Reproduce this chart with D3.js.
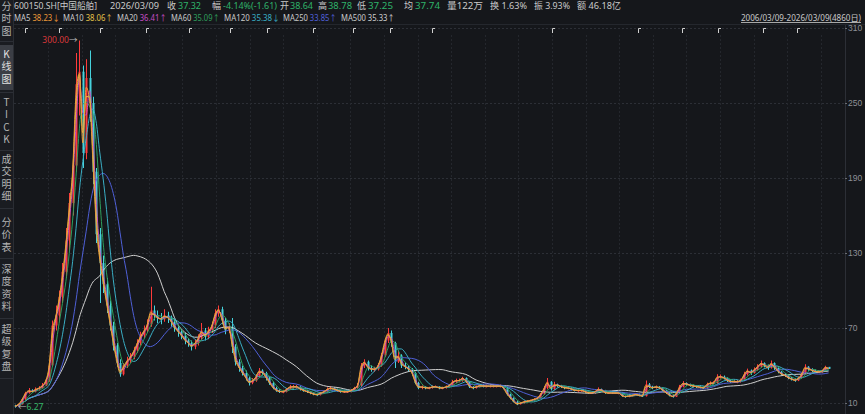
<!DOCTYPE html>
<html><head><meta charset="utf-8">
<script src="https://cdn.jsdelivr.net/npm/d3@7"></script>
<style>
html,body{margin:0;padding:0;background:#15171b;overflow:hidden;}
svg{display:block;font-family:"Noto Sans","Noto Sans CJK SC",sans-serif;}
.vt{writing-mode:vertical-rl;text-orientation:upright;}
</style></head><body>
<svg id="c" width="865" height="414"></svg>
<script>
// ---- DATA (monthly, 2006-03 .. 2026-03) ----
const startMonth = "2006-03";
const firstOpen = 8.0;
const closes = [
 7.5,9,13,18,20,19,21,22,24,28, 40,72,80,95,115,140,170,200,265,275,
 210,270,250,195,145,122,105,88,72,56, 42,33,40,44,47,52,58,64,68,73,
 84,80,78,77,80,78,75,70,67,64, 60,58,55,58,62,68,63,68,72,82,
 85,76,68,71,55,43,38,34,30,26, 28,31,36,34,30,26,22,20,19,19,
 21,23,23,23,21,20,19,18,17,16.5, 18,19,21,22,21,20,19,19,19,20,
 22,24,40,43,38,37,37,40,48,60, 66,58,43,48,40,39,37,34,26,22,
 23,22,22,23,23,22,22,23,24,27, 28,28,30,27,23,22,23,24,23.5,23.5,
 23.5,23.5,23.5,23.5,22,17,14,11,9,10, 11,11.5,12,13,14,17,22,27,21,25,
 24,23,22,22,21,20,20,20,19,18, 18,19,21,20,18,18,18,18,18,15.5,
 15,15.6,16,17,16,15.5,25,23,22,23, 22,20,18,16,15,18,23,26,25,24,
 23.5,23,22.5,22,25,26,26,31,31,30, 28,27,27,27,28,33,36,34,37,39,
 42,40,38,42,38,35,33,32,30,29, 28,30,33,39,37,36,35,35,35.5,38.93,
 37.32
];
const highs = [
 8.6,9.5,13.8,19,22,21,22.5,23.5,26,30, 43,76,88,100,122,150,178,210,290,300,
 280,285,292,255,198,150,128,110,92,75, 58,45,42,47,50,55,61,67,72,77,
 103,88,84,82,85,83,80,77,72,69, 66,62,60,61,65,74,70,71,75,85,
 88,87,78,74,78,57,45,40,36,31, 30,33,38,37,35,31,27,23,21,20.5,
 22,24.5,24.5,24.5,23.5,21.5,20.5,19.5,18.5,17.5, 18.8,20,22.5,23.5,22.5,21.5,20.5,20,20,21,
 23,26,42,45,44,40,39,42,50,62, 70,68,59,52,49,42,40,38,35,27,
 24,23.5,23,24,24,23.5,23,24,25,28.5, 29.5,29.5,31,30.5,27.5,23.5,24,25,25,24.8,
 24.8,24.8,24.8,24.8,24,22.5,17.5,14.5,11.5,10.8, 11.8,12.2,12.8,13.8,15,18,23.5,30,27.5,27,
 25.5,24.5,23.5,23,22.5,21.5,21,21,20.5,19.5, 19,19.8,22.5,21.5,20.5,19,19,19,19,18.5,
 16,16.3,16.8,17.8,17.5,16.5,28,26,23.8,24, 23.5,22.5,20.5,18.5,16.5,19,24.5,27.5,26.5,25.5,
 24.8,24.3,23.8,23.3,26.3,27.3,27.5,33,32.8,32, 30.5,28.8,28.5,28.5,29.5,35,37.5,36.8,38.5,41,
 44,42.5,40.8,44,42.5,38.5,35.5,33.8,32.5,30.8, 29.8,31.2,34.3,41,39.5,37.8,36.8,36.3,36.6,39.8,
 38.78
];
const lows = [
 6.27,7.2,8.8,12.5,17.5,18,18.5,20,21.5,23.5, 27,39,68,76,90,110,132,160,195,240,
 198,205,235,185,138,90,98,82,68,52, 39,31,32,38,42,45,50,56,62,66,
 71,76,74,73,75,74,71,67,63,61, 57,55,52,53,56,60,60,61,66,70,
 79,73,65,66,50,40,35,32,28,24, 25,27,30,32,28,24.5,21,19,18,17.8,
 18.5,20.5,21.5,21.5,20,19,18,17,16.2,15.8, 16,17.5,18.5,20.5,20,19,18.2,18,18,18.5,
 19.5,21.5,23.5,38,36,35,35,36,39,47, 58,55,38,42,38,37,35,32,25,21,
 21,21,21,21.5,22,21,21,21.5,22.5,23.5, 26,26.5,27,26,22,21,21.5,22.5,22.5,22.5,
 22.5,22.5,22.5,22.5,21,16,13,10.5,8.3,8.8, 9.6,10.6,11,11.6,12.5,13.5,16.5,21,20,20.5,
 22.5,22,21,21,20,19.2,19,19,18.2,17.3, 17.2,17.5,18.5,19,17.3,17.2,17.2,17.2,17,15,
 14.2,14.6,15,15.6,15.3,14.8,15.2,22,21,21.5, 21,19.2,17.2,15.3,14.3,14.8,17.5,22.5,23.8,23,
 22.5,22,21.6,21.2,21.6,24.3,24.8,25.5,29.5,28.8, 26.8,26,26,25.8,26.3,27.5,32,32.5,33.5,36,
 38,38.5,36.5,37.5,36.5,33.8,31.8,30.8,29,28, 27,27.5,29.5,32.5,35.8,34.8,34,34,34.3,35.2,
 37.25
];
const yTicks = [10, 70, 130, 190, 250, 310];
const maNames  = ["MA5","MA10","MA20","MA60","MA120","MA250","MA500"];
const maDays   = [5, 10, 20, 60, 120, 250, 500];
const maValues = ["38.23↓","38.06↑","36.41↑","35.09↑","35.38↓","33.85↑","35.33↑"];
const maColors = ["#ec9a3a","#e3c24a","#c44dc4","#2f9f5c","#3aaec4","#4f60d8","#cfcfcf"];
const header1 = [
 ["600150.SH[中国船舶]","#c9c9c9"],["2026/03/09","#c9c9c9"],["收","#c9c9c9"],["37.32","#2fb36a"],
 ["幅","#c9c9c9"],["-4.14%(-1.61)","#2fb36a"],["开","#c9c9c9"],["38.64","#2fb36a"],
 ["高","#c9c9c9"],["38.78","#2fb36a"],["低","#c9c9c9"],["37.25","#2fb36a"],
 ["均","#c9c9c9"],["37.74","#2fb36a"],["量122万","#c9c9c9"],["换 1.63%","#c9c9c9"],
 ["振 3.93%","#c9c9c9"],["额 46.18亿","#c9c9c9"]
];
const rangeText = "2006/03/09-2026/03/09(4860日)";
const flagX = [25,59,100,146,189,230,267,313,353,390,432,552,638,682,718,763,797];
const sideTabs = [
 {label:"分时图", top:1},
 {label:"K线图", top:49, active:true},
 {label:"TICK", top:97},
 {label:"成交明细", top:154},
 {label:"分价表", top:217},
 {label:"深度资料", top:264},
 {label:"超级复盘", top:324}
];
const sideSeps = [41, 92, 150, 208, 258, 318, 378];

// ---- layout (positions / widths of header texts) ----
const header1Pos = [[14,83],[110,49],[167,9],[178,23],[212,9],[223,54],[280,9],[290,23],
 [318,9],[328,24],[357,9],[368,25],[404,9],[415,25],[447,36],[490,37],[534,36],[577,44]];
const legPos = [[14,46],[63,50],[117,50],[171,49],[224,56],[283,54],[341,54]];

// ---- DRAW ----
const svg = d3.select("#c");
const plot = {l:14, r:845, t:25, b:411};
svg.append("rect").attr("width",865).attr("height",414).attr("fill","#15171b");

const x = d3.scaleLinear().domain([0, closes.length-1]).range([15, 828.6]);
const y = d3.scaleLinear().domain([10, 310]).range([403, 28]);

// grid
const grid = svg.append("g");
grid.selectAll("line.h").data(yTicks).join("line").attr("class","h")
 .attr("x1",plot.l).attr("x2",plot.r)
 .attr("y1",d=>Math.round(y(d))+0.5).attr("y2",d=>Math.round(y(d))+0.5)
 .attr("stroke","#2c2f36").attr("stroke-dasharray","2,2");
const vg = d3.range(24).map(k=>48+33.6*k);
grid.selectAll("line.v").data(vg).join("line").attr("class","v")
 .attr("x1",d=>Math.round(d)+0.5).attr("x2",d=>Math.round(d)+0.5)
 .attr("y1",plot.t+10).attr("y2",plot.b)
 .attr("stroke","#24272d").attr("stroke-dasharray","2,2");
svg.append("line").attr("x1",plot.r+0.5).attr("x2",plot.r+0.5).attr("y1",24).attr("y2",414)
 .attr("stroke","#2c2f36");
svg.append("line").attr("x1",14).attr("x2",865).attr("y1",24.5).attr("y2",24.5).attr("stroke","#24272d");

// y axis
const yAxis = d3.axisRight(y).tickValues(yTicks).tickSize(2).tickPadding(1).tickFormat(d3.format("d"));
const ya = svg.append("g").attr("transform",`translate(${plot.r},0)`).call(yAxis);
ya.select(".domain").remove();
ya.selectAll("line").attr("stroke","#6a6d73");
ya.selectAll("text").attr("fill","#8e9096").attr("font-size","8.5px");

// clip
svg.append("clipPath").attr("id","clip").append("rect")
 .attr("x",plot.l).attr("y",plot.t).attr("width",plot.r-plot.l).attr("height",plot.b-plot.t);
const g = svg.append("g").attr("clip-path","url(#clip)");

const opens = closes.map((c,i)=> i===0 ? firstOpen : closes[i-1]);
const cw = 2;
const upC = "#ff3b3b", dnC = "#46d2dc";
const cand = g.append("g").selectAll("g").data(closes).join("g");
cand.append("line")
 .attr("x1",(d,i)=>Math.round(x(i))+0.5).attr("x2",(d,i)=>Math.round(x(i))+0.5)
 .attr("y1",(d,i)=>y(highs[i])).attr("y2",(d,i)=>y(lows[i]))
 .attr("stroke",(d,i)=> d>=opens[i]?upC:dnC).attr("stroke-width",1);
cand.append("rect")
 .attr("x",(d,i)=>Math.round(x(i))+0.5-cw/2).attr("width",cw)
 .attr("y",(d,i)=>y(Math.max(d,opens[i])))
 .attr("height",(d,i)=>Math.max(1,Math.abs(y(d)-y(opens[i]))))
 .attr("fill",(d,i)=> d>=opens[i]?upC:dnC);

// moving averages: integral of the close path over the last N trading days
const daysPerMonth = 4860/240;
function maAt(i, W){
  const t0 = Math.max(0, i-W), len = i-t0;
  if (len <= 0) return closes[i];
  let sum = 0;
  for (let k=i; k>t0; k--){
    const a = Math.max(k-1, t0);
    const va = closes[k-1] + (a-(k-1))*(closes[k]-closes[k-1]);
    sum += (va+closes[k])/2*(k-a);
  }
  return sum/len;
}
const line = d3.line().x(d=>x(d[0])).y(d=>y(d[1])).curve(d3.curveMonotoneX);
for (let j=maDays.length-1; j>=0; j--){
  const W = maDays[j]/daysPerMonth;
  const pts = closes.map((c,i)=>[i, maAt(i,W)]);
  g.append("path").attr("d",line(pts)).attr("fill","none")
   .attr("stroke",maColors[j]).attr("stroke-width",1);
}

// max / min labels
const iMax = d3.maxIndex(highs), iMin = d3.minIndex(lows);
const mx = svg.append("text").attr("x",x(iMax)-2).attr("y",y(highs[iMax])+2)
 .attr("text-anchor","end").attr("font-size","8.5px");
mx.append("tspan").attr("fill","#d8383a").text(d3.format(".2f")(highs[iMax]));
mx.append("tspan").attr("fill","#bbbbbb").text("→");
const mn = svg.append("text").attr("x",x(iMin)+3).attr("y",y(lows[iMin])+2)
 .attr("font-size","8.5px");
mn.append("tspan").attr("fill","#bbbbbb").text("←");
mn.append("tspan").attr("fill","#35b96a").text(lows[iMin]);

// header row 1
svg.append("g").selectAll("text").data(header1).join("text")
 .attr("x",(d,i)=>header1Pos[i][0]).attr("y",9).attr("font-size","9.2px")
 .attr("textLength",(d,i)=>header1Pos[i][1]).attr("lengthAdjust","spacingAndGlyphs")
 .attr("fill",d=>d[1]).text(d=>d[0]);
// header row 2 (MA legend)
const lg = svg.append("g").selectAll("text").data(maNames).join("text")
 .attr("x",(d,i)=>legPos[i][0]).attr("y",21).attr("font-size","8.2px")
 .attr("textLength",(d,i)=>legPos[i][1]).attr("lengthAdjust","spacingAndGlyphs");
lg.append("tspan").attr("fill","#c9c9c9").text(d=>d+" ");
lg.append("tspan").attr("fill",(d,i)=>maColors[i]).text((d,i)=>maValues[i]);
// date range
svg.append("text").attr("x",741).attr("y",21)
 .attr("textLength",120).attr("lengthAdjust","spacingAndGlyphs")
 .attr("font-size","8.2px").attr("fill","#c9c9c9").attr("text-decoration","underline").text(rangeText);
// flags
svg.append("g").selectAll("path").data(flagX).join("path")
 .attr("d",d=>`M${d+0.5},33V28.5H${d+3}`).attr("fill","none").attr("stroke","#d0d0d0").attr("stroke-width",1);

// sidebar
const sb = svg.append("g");
sb.append("rect").attr("x",0).attr("y",0).attr("width",13).attr("height",414).attr("fill","#1a1c21");
sb.append("line").attr("x1",13.5).attr("x2",13.5).attr("y1",0).attr("y2",414).attr("stroke","#2a2d33");
sb.append("rect").attr("x",0).attr("y",45).attr("width",13).attr("height",45).attr("fill","#3b3e45");
sb.selectAll("line.sep").data(sideSeps).join("line").attr("class","sep")
 .attr("x1",0).attr("x2",13).attr("y1",d=>d+0.5).attr("y2",d=>d+0.5).attr("stroke","#2c2f36");
sb.selectAll("text.tab").data(sideTabs).join("text").attr("class","tab vt")
 .attr("x",6.5).attr("y",d=>d.top)
 .attr("font-size","10px").attr("letter-spacing","2.5px")
 .attr("fill",d=>d.active?"#e0e0e0":"#b4b4b4")
 .attr("font-family","'Noto Sans CJK SC',sans-serif")
 .text(d=>d.label);
</script>
</body></html>
